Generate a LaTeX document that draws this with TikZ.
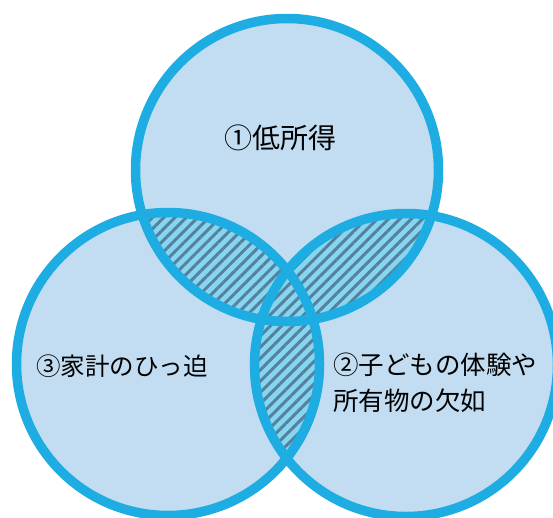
\documentclass[tikz,border=0pt]{standalone}
\usepackage{fontspec}
\setmainfont{Noto Sans CJK JP}
\usetikzlibrary{patterns.meta}
\definecolor{ringblue}{HTML}{1EADE2}
\definecolor{fillblue}{HTML}{C2DDF1}
\definecolor{hatchbg}{HTML}{86D6F0}
\definecolor{hatchline}{HTML}{55819F}
\tikzset{
  ring/.style={draw=ringblue, line width=9.5pt},
  disc/.style={fill=fillblue},
  lensbg/.style={fill=hatchbg},
  lenshatch/.style={pattern={Lines[angle=45,distance=8pt,line width=3pt]}, pattern color=hatchline},
  label/.style={text=black, inner sep=0pt, font=\fontsize{25.5pt}{36pt}\selectfont, align=left}
}
\begin{document}
\begin{tikzpicture}[x=1pt,y=-1pt]
\useasboundingbox (0,0) rectangle (553,517);
\clip (0,0) rectangle (553,517);
\def\R{151.5}
\coordinate (ct) at (287,170);
\coordinate (cl) at (168,364);
\coordinate (cr) at (406,365);
% discs
\fill[disc] (ct) circle (\R);
\fill[disc] (cl) circle (\R);
\fill[disc] (cr) circle (\R);
% hatched overlaps
\begin{scope}
  \clip (ct) circle (\R);
  \fill[lensbg] (cl) circle (\R);
  \fill[lensbg] (cr) circle (\R);
  \fill[lenshatch] (cl) circle (\R);
  \fill[lenshatch] (cr) circle (\R);
\end{scope}
\begin{scope}
  \clip (cl) circle (\R);
  \fill[lensbg] (cr) circle (\R);
  \fill[lenshatch] (cr) circle (\R);
\end{scope}
% rings
\draw[ring] (ct) circle (\R);
\draw[ring] (cl) circle (\R);
\draw[ring] (cr) circle (\R);
% labels
\node[label, font=\fontsize{28pt}{36pt}\selectfont] (t1) at (280,138) {①低所得};
\node[label, font=\fontsize{24.5pt}{36pt}\selectfont] (t3) at (122,366) {③家計のひっ迫};
\node[label, anchor=west] (t2) at (333,383) {②子どもの体験や\\所有物の欠如};
\end{tikzpicture}
\end{document}
